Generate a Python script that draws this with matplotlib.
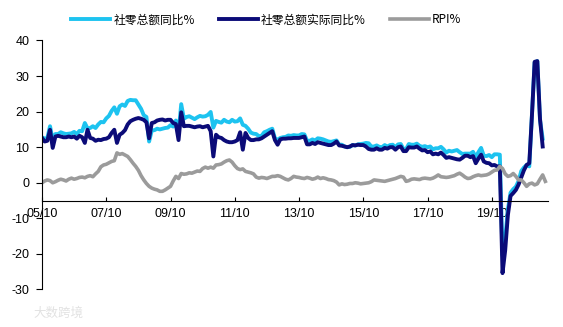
import matplotlib.pyplot as plt
import numpy as np

# monthly series starting 2005/10
retail_nominal = [
    12.8, 12.4, 12.6,                                                  # 2005
    15.9, 12.0, 13.7, 13.7, 14.2, 13.9, 13.7, 13.8, 13.9, 14.3, 13.7, 14.6,  # 2006
    14.5, 16.8, 15.3, 15.4, 15.9, 15.4, 16.4, 17.1, 17.0, 18.1, 18.8, 20.2,  # 2007
    21.2, 19.4, 21.5, 22.0, 21.6, 23.0, 23.3, 23.2, 23.2, 22.0, 20.8, 19.0,  # 2008
    18.5, 11.6, 14.7, 14.8, 15.2, 15.0, 15.2, 15.4, 15.5, 16.2, 15.8, 17.5,  # 2009
    14.1, 22.1, 18.0, 18.5, 18.7, 18.3, 17.9, 18.4, 18.8, 18.6, 18.7, 19.1,  # 2010
    19.9, 15.5, 17.4, 17.1, 16.9, 17.7, 17.2, 17.0, 17.7, 17.2, 17.3, 18.1,  # 2011
    16.3, 16.0, 15.2, 14.1, 13.8, 13.7, 13.1, 13.2, 14.2, 14.5, 14.9, 15.2,  # 2012
    12.5, 12.1, 12.6, 12.8, 12.9, 13.3, 13.2, 13.4, 13.3, 13.3, 13.7, 13.6,  # 2013
    11.8, 11.8, 12.2, 11.9, 12.5, 12.4, 12.2, 11.9, 11.6, 11.5, 11.7, 11.9,  # 2014
    10.7, 10.7, 10.2, 10.0, 10.1, 10.6, 10.5, 10.8, 10.9, 11.0, 11.2, 11.1,  # 2015
    10.2, 10.2, 10.5, 10.1, 10.0, 10.6, 10.2, 10.6, 10.7, 10.0, 10.8, 10.9,  # 2016
    9.5, 9.5, 10.9, 10.7, 10.7, 11.0, 10.4, 10.1, 10.3, 10.0, 10.2, 9.4,     # 2017
    9.7, 9.7, 10.1, 9.4, 8.5, 9.0, 8.8, 9.0, 9.2, 8.6, 8.1, 8.2,             # 2018
    8.2, 8.2, 8.7, 7.2, 8.6, 9.8, 7.6, 7.5, 7.8, 7.2, 8.0, 8.0,              # 2019
    7.9, -20.5, -15.8, -7.5, -2.8, -1.8, -1.1, 0.5, 3.3, 4.3, 5.0, 4.6,      # 2020
    19.0, 33.8, 34.2, 17.7, 12.4, np.nan,                                    # 2021
]

retail_real = [
    12.6, 11.6, 11.8,
    14.9, 9.8, 13.0, 13.2, 13.0, 12.8, 12.8, 13.0, 12.8, 13.0, 12.4, 13.2,
    12.8, 11.2, 14.9, 12.6, 12.4, 11.8, 12.1, 12.0, 12.3, 12.4, 12.8, 14.0,
    14.9, 11.2, 13.5, 14.0, 14.8, 16.4, 17.3, 17.7, 18.0, 18.2, 18.0, 17.7,
    17.0, 12.5, 16.8, 17.0, 17.5, 17.7, 17.8, 17.5, 17.7, 17.7, 16.8, 16.5,
    12.0, 19.8, 15.9, 16.0, 16.0, 15.8, 15.6, 15.8, 15.9, 15.6, 15.8, 16.0,
    14.5, 7.4, 13.5, 12.8, 12.6, 12.0, 11.6, 11.4, 11.4, 11.6, 12.0, 14.2,
    9.3, 14.0, 12.6, 12.0, 12.0, 12.2, 12.2, 12.5, 13.0, 13.5, 14.0, 14.5,
    12.0, 10.7, 12.2, 12.4, 12.4, 12.5, 12.5, 12.6, 12.6, 12.6, 12.8, 13.0,
    10.8, 10.8, 11.2, 10.9, 11.4, 11.2, 11.0, 10.8, 10.6, 10.6, 11.0, 11.6,
    10.5, 10.4, 10.2, 10.0, 10.2, 10.6, 10.5, 10.7, 10.6, 10.6, 10.2, 9.5,
    9.3, 9.3, 9.7, 9.3, 9.3, 9.8, 9.6, 10.0, 10.0, 9.3, 10.0, 10.2,
    8.9, 8.9, 10.0, 9.9, 9.9, 10.2, 9.6, 9.1, 9.2, 8.6, 8.8, 8.0,
    8.2, 8.0, 8.5, 7.8, 7.0, 7.2, 7.0, 6.8, 6.6, 6.5, 7.0, 7.6,
    7.6, 7.2, 7.5, 5.5, 6.8, 7.9, 6.0, 5.6, 5.5, 4.9, 5.0, 4.6,
    4.6, -25.4, -19.0, -9.1, -3.7, -2.9, -2.0, -0.5, 1.5, 3.5, 5.0, 5.5,
    19.0, 34.0, 34.2, 18.0, 10.2, np.nan,
]

rpi = [
    0.0, 0.5, 0.8,
    0.6, 0.0, 0.3, 0.7, 1.0, 0.8, 0.5, 1.0, 1.3, 1.0, 1.2, 1.5,
    1.6, 1.4, 1.8, 2.0, 1.7, 2.5, 3.2, 4.5, 5.0, 5.2, 5.6, 6.0,
    6.2, 8.4, 8.0, 8.2, 7.8, 7.4, 6.5, 5.5, 4.6, 3.5, 2.0, 0.8,
    -0.2, -1.0, -1.5, -1.8, -2.0, -2.4, -2.4, -2.0, -1.5, -1.0, 0.5, 1.8,
    1.2, 2.6, 2.4, 2.5, 2.8, 2.7, 3.0, 3.3, 3.2, 4.0, 4.4, 4.1,
    4.4, 4.1, 5.0, 5.1, 5.3, 5.8, 6.2, 6.4, 5.8, 4.8, 4.0, 3.7,
    3.9, 3.2, 3.0, 2.8, 2.5, 1.6, 1.3, 1.5, 1.4, 1.2, 1.5, 1.8,
    1.8, 2.0, 1.8, 1.4, 1.0, 0.8, 1.2, 1.8, 1.6, 1.5, 1.3, 1.2,
    1.5, 1.3, 1.0, 1.2, 1.6, 1.2, 1.4, 1.2, 0.9, 0.8, 0.6, 0.2,
    -0.6, -0.3, -0.5, -0.4, -0.2, -0.2, 0.0, -0.1, -0.3, -0.2, -0.1, 0.0,
    0.3, 0.8, 0.7, 0.6, 0.5, 0.4, 0.6, 0.8, 1.0, 1.2, 1.5, 1.8,
    1.6, 0.4, 0.6, 1.0, 1.1, 1.0, 0.9, 1.2, 1.3, 1.2, 1.1, 1.3,
    1.7, 2.2, 1.7, 1.6, 1.5, 1.6, 1.8, 2.0, 2.4, 2.7, 2.2, 1.6,
    1.2, 1.3, 1.7, 2.0, 2.2, 2.0, 2.1, 2.2, 2.5, 3.0, 3.5, 3.6,
    4.6, 4.0, 2.5, 1.8, 2.0, 2.6, 1.8, 0.8, 0.8, 0.0, -1.0, -0.3,
    -0.1, -0.6, -0.3, 1.0, 2.2, 0.4,
]

tick_labels = ['05/10', '07/10', '09/10', '11/10', '13/10', '15/10', '17/10', '19/10']

months = np.arange(len(rpi))

plt.rcParams['font.family'] = ['Liberation Sans', 'Noto Sans CJK SC']
plt.rcParams['axes.unicode_minus'] = False
fig = plt.figure(figsize=(5.63, 3.27), dpi=100)
ax = fig.add_axes([0.0746, 0.1147, 0.8988, 0.7615])

l1, = ax.plot(months, retail_nominal, color='#1DC3F0', lw=2.8, solid_joinstyle='round')
l2, = ax.plot(months, retail_real, color='#0B0B78', lw=2.8, solid_joinstyle='round')
l3, = ax.plot(months, rpi, color='#9B9B9B', lw=2.6, solid_joinstyle='round')

ax.set_xlim(0, 189)
ax.set_ylim(-30, 40)
ax.set_yticks(np.arange(-30, 41, 10))
ax.set_xticks(np.arange(0, 24 * len(tick_labels), 24))
ax.set_xticklabels(tick_labels)

# horizontal axis crosses at -5
ax.spines['bottom'].set_position(('data', -5))
ax.spines['top'].set_visible(False)
ax.spines['right'].set_visible(False)
for s in ('left', 'bottom'):
    ax.spines[s].set_linewidth(0.8)

ax.tick_params(axis='x', direction='in', length=3, width=0.8, pad=5, labelsize=9)
ax.tick_params(axis='y', direction='out', length=4, width=0.8, pad=5, labelsize=9)

fig.legend([l1, l2, l3], ['社零总额同比%', '社零总额实际同比%', 'RPI%'],
           loc='center', bbox_to_anchor=(0.473, 0.939), ncol=3, frameon=False,
           handlelength=3.3, handletextpad=0.3, columnspacing=2.0,
           prop={'family': 'Noto Sans CJK SC', 'size': 8.5})

fig.text(0.06, 0.043, '大数跨境', color='#e2e2e2', fontsize=9,
         family='Noto Sans CJK SC', va='center')

fig.savefig('out.png', dpi=100)
